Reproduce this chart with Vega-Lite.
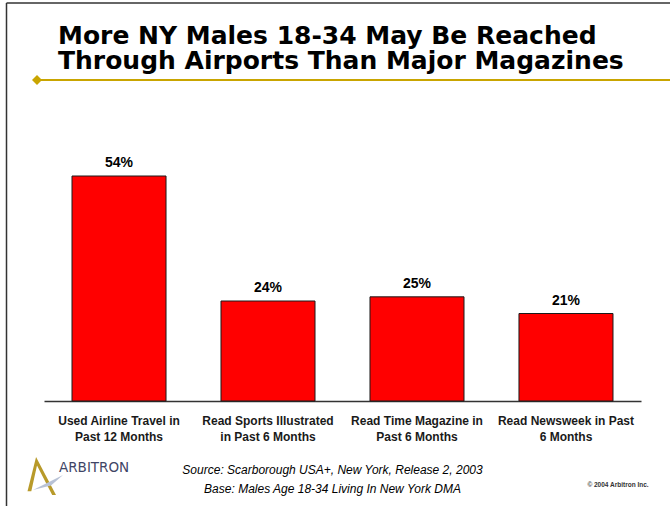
{
  "$schema": "https://vega.github.io/schema/vega-lite/v6.json",
  "width": 597,
  "height": 250,
  "autosize": {"type": "none"},
  "padding": {"left": 44, "top": 151, "right": 29, "bottom": 105},
  "background": "#ffffff",
  "config": {"view": {"stroke": null}, "font": "Liberation Sans"},
  "title": {
    "text": ["More NY Males 18-34 May Be Reached", "Through Airports Than Major Magazines"],
    "anchor": "start",
    "frame": "group",
    "font": "DejaVu Sans",
    "fontSize": 25,
    "fontWeight": "bold",
    "color": "#000000",
    "lineHeight": 25,
    "baseline": "alphabetic",
    "dx": 14,
    "offset": -92
  },
  "data": {
    "values": [
      {"category": "Used Airline Travel in Past 12 Months", "value": 54},
      {"category": "Read Sports Illustrated in Past 6 Months", "value": 24},
      {"category": "Read Time Magazine in Past 6 Months", "value": 25},
      {"category": "Read Newsweek in Past 6 Months", "value": 21}
    ]
  },
  "layer": [
    {
      "mark": {"type": "bar", "color": "#FF0000", "stroke": "#1a1a1a", "strokeWidth": 1},
      "encoding": {
        "x": {
          "field": "category",
          "type": "nominal",
          "sort": null,
          "scale": {"paddingInner": 0.369, "paddingOuter": 0.188},
          "axis": {
            "title": ["Source: Scarborough USA+, New York, Release 2, 2003", "Base: Males Age 18-34 Living In New York DMA"],
            "titleFont": "Liberation Sans",
            "titleFontSize": 12,
            "titleFontWeight": "normal",
            "titleFontStyle": "italic",
            "titleColor": "#000000",
            "titleX": 288,
            "titleY": 72,
            "titleBaseline": "alphabetic",
            "titleAlign": "center",
            "titleAnchor": null,
            "titleLineHeight": 19,
            "labelAngle": 0,
            "labelFont": "Liberation Sans",
            "labelFontSize": 12,
            "labelFontWeight": "bold",
            "labelColor": "#1a1a1a",
            "labelPadding": 14,
            "labelLineHeight": 16,
            "labelBaseline": "top",
            "labelLimit": 200,
            "labelExpr": "{'Used Airline Travel in Past 12 Months': ['Used Airline Travel in', 'Past 12 Months'], 'Read Sports Illustrated in Past 6 Months': ['Read Sports Illustrated', 'in Past 6 Months'], 'Read Time Magazine in Past 6 Months': ['Read Time Magazine in', 'Past 6 Months'], 'Read Newsweek in Past 6 Months': ['Read Newsweek in Past', '6 Months']}[datum.label]",
            "ticks": false,
            "domain": true,
            "domainColor": "#333333",
            "domainWidth": 1.5,
            "grid": false
          }
        },
        "y": {
          "field": "value",
          "type": "quantitative",
          "scale": {"domain": [0, 60], "nice": false, "zero": true},
          "axis": null
        }
      }
    },
    {
      "transform": [{"calculate": "datum.value + '%'", "as": "pct"}],
      "mark": {"type": "text", "font": "Liberation Sans", "fontSize": 14, "fontWeight": "bold", "color": "#000000", "baseline": "alphabetic", "dy": -9},
      "encoding": {
        "x": {"field": "category", "type": "nominal", "sort": null},
        "y": {"field": "value", "type": "quantitative"},
        "text": {"field": "pct", "type": "nominal"}
      }
    },
    {
      "data": {"values": [{"line": "frame-left"}]},
      "mark": {"type": "rule", "color": "#333333", "strokeWidth": 1.5},
      "encoding": {"x": {"value": -37.5}, "y": {"value": -148}, "y2": {"value": 355}}
    },
    {
      "data": {"values": [{"line": "frame-top"}]},
      "mark": {"type": "rule", "color": "#333333", "strokeWidth": 1.5},
      "encoding": {"x": {"value": -37.5}, "x2": {"value": 626}, "y": {"value": -148}}
    },
    {
      "data": {"values": [{"line": "gold"}]},
      "mark": {"type": "rule", "color": "#C9A500", "strokeWidth": 2},
      "encoding": {"x": {"value": -7}, "x2": {"value": 626}, "y": {"value": -71}}
    },
    {
      "data": {"values": [{"mark": "diamond"}]},
      "mark": {"type": "point", "shape": "diamond", "filled": true, "color": "#C9A500", "size": 100, "opacity": 1},
      "encoding": {"x": {"value": -7}, "y": {"value": -71}}
    },
    {
      "data": {"values": [{"mark": "logo"}]},
      "mark": {"type": "point", "shape": "M -0.55 -1 L 0.5 1 L 0.3 1 L -0.5 -0.55 L -0.8 0.8 L -1 0.8 Z", "filled": true, "color": "#B89A2A", "size": 1444, "opacity": 1},
      "encoding": {"x": {"value": 2.5}, "y": {"value": 325}}
    },
    {
      "data": {"values": [{"mark": "logo-swoosh"}]},
      "mark": {"type": "point", "shape": "M -1 0.6 L 1 -0.4 L 0.2 0.3 Z", "filled": true, "color": "#B8C2D6", "size": 900, "opacity": 1},
      "encoding": {"x": {"value": 4}, "y": {"value": 330}}
    },
    {
      "data": {"values": [{"text": "ARBITRON"}]},
      "mark": {"type": "text", "font": "DejaVu Sans", "fontSize": 13.5, "color": "#3f4566", "align": "left", "baseline": "middle"},
      "encoding": {"x": {"value": 15}, "y": {"value": 317}, "text": {"field": "text"}}
    },
    {
      "data": {"values": [{"text": "© 2004 Arbitron Inc."}]},
      "mark": {"type": "text", "font": "Liberation Sans", "fontSize": 6.5, "fontWeight": "bold", "color": "#333333", "align": "center", "baseline": "middle"},
      "encoding": {"x": {"value": 574}, "y": {"value": 334}, "text": {"field": "text"}}
    }
  ]
}
